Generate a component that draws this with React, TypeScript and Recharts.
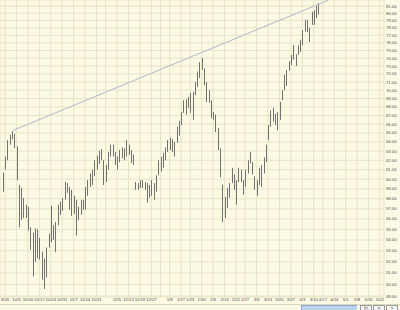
import {
  ComposedChart,
  Bar,
  XAxis,
  YAxis,
  CartesianGrid,
  ReferenceLine
} from 'recharts';

// trading-day index of the first bar (0 = 9/26)
const FIRST_DAY = -1;

const highs = [
  60.7, 62.4, 64.2, 64.8, 65.2, 64.9, 63.5, 59.4, 59.1, 58.1,
  57.4, 57.2, 55.2, 54.7, 55.1, 55.0, 54.2, 52.9, 52.3, 53.3,
  54.6, 57.3, 55.4, 55.7, 57.4, 57.7, 58.1, 59.7, 59.6, 59.2,
  58.9, 58.3, 57.9, 57.2, 57.9, 57.9, 59.2, 59.9, 60.6, 61.0,
  62.0, 62.5, 63.0, 63.2, 62.0, 61.5, 62.9, 63.7, 63.7, 62.9,
  62.4, 63.1, 63.4, 63.3, 64.2, 63.7, 63.1, 62.6, 59.7, 59.6,
  59.9, 59.9, 59.7, 59.6, 59.4, 59.9, 59.6, 60.4, 62.0, 62.4,
  62.8, 63.4, 64.2, 64.5, 64.3, 64.0, 65.7, 66.4, 67.4, 68.8,
  68.9, 69.2, 69.7, 69.8, 71.0, 72.3, 73.5, 74.0, 72.7, 71.0,
  70.0, 68.8, 67.4, 67.1, 65.6, 63.3, 59.4, 58.2, 59.1, 59.6,
  61.2, 60.5, 59.9, 61.2, 61.0, 59.9, 61.0, 62.0, 62.9, 61.8,
  60.3, 59.9, 61.2, 61.5, 62.3, 63.7, 65.9, 67.6, 67.9, 67.2,
  67.4, 68.6, 70.0, 71.9, 72.5, 73.6, 74.4, 75.7, 74.5, 75.7,
  76.4, 77.7, 79.1, 79.1, 78.0, 80.2, 80.4, 81.0, 81.4
];

const lows = [
  58.7, 61.0, 62.0, 63.7, 64.3, 63.3, 59.9, 55.2, 55.9, 56.1,
  56.1, 54.9, 53.1, 50.7, 52.0, 52.3, 52.2, 50.4, 49.6, 50.6,
  53.3, 53.8, 54.0, 52.9, 55.4, 56.4, 56.8, 57.9, 58.6, 56.9,
  56.3, 56.5, 54.4, 55.9, 56.4, 56.9, 56.9, 58.3, 59.2, 59.4,
  60.3, 61.0, 61.6, 62.0, 59.4, 59.7, 61.0, 62.4, 62.4, 61.5,
  61.0, 61.8, 62.2, 62.0, 62.4, 62.6, 61.7, 61.5, 58.9, 58.9,
  59.1, 59.1, 58.9, 57.6, 58.1, 58.3, 57.9, 58.7, 60.4, 60.8,
  61.2, 62.0, 62.9, 63.1, 62.9, 62.4, 63.9, 64.7, 65.9, 67.3,
  67.1, 67.9, 67.3, 66.5, 69.4, 70.4, 71.5, 72.5, 70.6, 68.6,
  68.5, 66.7, 66.5, 65.1, 63.1, 60.2, 55.7, 56.1, 57.1, 58.1,
  59.6, 58.9, 57.4, 59.7, 59.7, 58.4, 59.2, 60.6, 61.7, 60.5,
  58.9, 58.3, 59.4, 59.2, 60.6, 61.8, 64.2, 65.7, 66.3, 65.9,
  65.3, 66.5, 68.8, 70.0, 70.5, 72.4, 73.1, 73.8, 73.0, 74.4,
  74.8, 75.7, 77.5, 77.4, 76.1, 78.4, 78.4, 79.3, 79.8
];

// weekly date ticks (trading-day index -> label)
const tickDays = [
  0, 5, 10, 15, 20, 25, 30, 35, 40, 44, 49, 54, 59, 64, 68, 72, 77, 81,
  86, 91, 96, 101, 105, 110, 115, 120, 125, 130, 135, 139, 144, 149, 154,
  159, 164
];
const tickLabels = [
  '9/26', '10/3', '10/10', '10/17', '10/24', '10/31', '11/7', '11/14',
  '11/21', '', '12/5', '12/12', '12/19', '12/27', '', '1/9', '1/17', '1/23',
  '1/30', '2/6', '2/13', '2/21', '2/27', '3/6', '3/13', '3/20', '3/27',
  '4/3', '4/10', '4/17', '4/24', '5/1', '5/8', '5/15', '5/22'
];

const priceTicks = [
  49, 50, 51, 52, 53, 54, 55, 56, 57, 58, 59, 60, 61, 62, 63, 64, 65,
  66, 67, 68, 69, 70, 71, 72, 73, 74, 75, 76, 77, 78, 79, 80, 81
];

// trendline touching the october high
const trendStart = { x: 3.6, y: 65.3 };
const trendEnd = { x: 141.2, y: 81.8 };

const data = highs.map((h, k) => ({ day: k + FIRST_DAY, range: [lows[k], h] }));

const HiLoBar = (props: any) => {
  const { x, y, width, height } = props;
  if (x == null || y == null) return null;
  const cx = Math.round(x + width / 2) + 0.5;
  return (
    <line x1={cx} x2={cx} y1={y} y2={y + Math.max(height, 1)} stroke="#727272" strokeWidth={1} />
  );
};

const font = "'Liberation Sans', Arial, sans-serif";

export default function App() {
  return (
    <div style={{ position: 'relative', width: 400, height: 310, background: '#fcfae5', overflow: 'hidden' }}>
      <style>{'body{margin:0}'}</style>
      <ComposedChart
        width={400}
        height={310}
        data={data}
        margin={{ top: 0, right: 0, bottom: 0, left: 0 }}
      >
        <CartesianGrid stroke="#e8e3c4" strokeWidth={1} />
        <XAxis
          dataKey="day"
          type="number"
          domain={[-2.19, 165.72]}
          ticks={tickDays}
          interval={0}
          tickFormatter={(v: number) => tickLabels[tickDays.indexOf(v)] ?? ''}
          axisLine={false}
          tickLine={false}
          tickSize={0}
          tickMargin={1}
          height={13}
          tick={{ fontSize: 4.2, fill: '#4a4a4a', fontFamily: font }}
          allowDataOverflow
        />
        <YAxis
          orientation="right"
          scale="log"
          domain={[48.92, 81.85]}
          ticks={priceTicks}
          interval={0}
          allowDataOverflow
          tickFormatter={(v: number) => v.toFixed(2)}
          axisLine={false}
          tickLine={false}
          tickSize={0}
          tickMargin={2}
          width={16}
          tick={{ fontSize: 4.2, fill: '#4a4a4a', fontFamily: font }}
        />
        <ReferenceLine
          segment={[trendStart, trendEnd]}
          stroke="#aeb7c9"
          strokeWidth={1}
          ifOverflow="visible"
        />
        <Bar dataKey="range" shape={<HiLoBar />} isAnimationActive={false} />
      </ComposedChart>
      <div style={{ position: 'absolute', left: 0, top: 304, width: 400, height: 1, background: '#dcd8c0' }} />
      <div style={{ position: 'absolute', left: 301, top: 305, width: 56, height: 6, background: '#bcd2ef', borderTop: '1px solid #8ea8d2', borderLeft: '1px solid #8ea8d2', boxSizing: 'border-box' }} />
      {['|<', '<', '>'].map((s, k) => (
        <div
          key={k}
          style={{
            position: 'absolute', left: 360 + k * 13, top: 305, width: 12, height: 6,
            border: '1px solid #9a9a9a', background: '#f4f4f4', boxSizing: 'border-box',
            fontSize: 5, lineHeight: '5px', textAlign: 'center', color: '#333', fontFamily: font
          }}
        >
          {s}
        </div>
      ))}
    </div>
  );
}
